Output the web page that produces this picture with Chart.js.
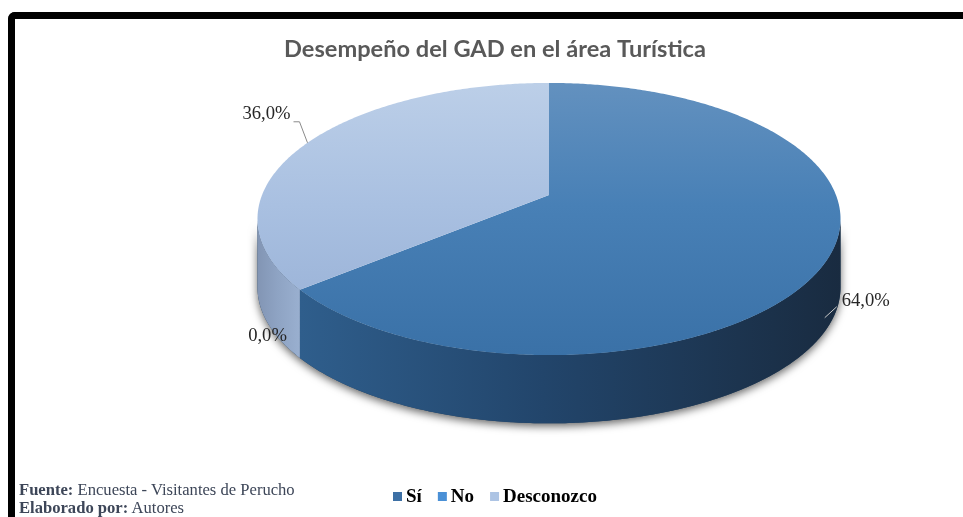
<!DOCTYPE html>
<html>
<head>
<meta charset="utf-8">
<script src="https://cdn.jsdelivr.net/npm/chart.js@4.4.1/dist/chart.umd.min.js"></script>
<style>
  html, body { margin: 0; padding: 0; background: #fff; }
  #wrap { position: relative; width: 963px; height: 517px; overflow: hidden; background: #fff; }
  #frame {
    position: absolute; left: 8px; top: 12px; width: 990px; height: 560px;
    border-top: 7px solid #000; border-left: 7px solid #000;
    border-top-left-radius: 7px; box-sizing: border-box;
  }
  #chart { position: absolute; left: 0; top: 0; }
  #source {
    position: absolute; left: 19px; top: 481px;
    font-family: "Liberation Serif", "Times New Roman", serif;
    font-size: 16.6px; line-height: 18px; color: #3d4658; white-space: nowrap;
  }
</style>
</head>
<body>
<div id="wrap">
  <div id="frame"></div>
  <canvas id="chart" width="963" height="517"></canvas>
  <div id="source"><b>Fuente:</b> Encuesta - Visitantes de Perucho<br><b>Elaborado por:</b> Autores</div>
</div>
<script>
// Survey answers and their shares (%)
const categories = ['Sí', 'No', 'Desconozco'];
const shares = [64.0, 0.0, 36.0];
const chartTitle = 'Desempeño del GAD en el área Turística';

// Colours per answer: top face gradient, side wall gradient, legend swatch
const palette = [
  { top: ['#6391bf', '#4880b6', '#3a71a7'], wall: ['#2f5e8c', '#22456b', '#192b40'], swatch: '#3d70a5' },
  { top: ['#5a9ad8', '#4a8ed3', '#3f80c4'], wall: ['#2f5f92', '#244c78', '#1b3a5c'], swatch: '#4a90d6' },
  { top: ['#bccfe8', '#a9c0e1', '#95aed4'], wall: ['#8295b4', '#8ea3c3', '#9ab0d0'], swatch: '#adc4e4' }
];

// Tilted-disc look: horizontal/vertical radius factors, perspective strength, thickness
const RX = 1.913, RY = 0.879, PERSP = 0.1765, DEPTH = 0.455;

function geometry(chart) {
  const arc = chart.getDatasetMeta(0).data[0];
  const p = arc.getProps(['x', 'y', 'outerRadius'], true);
  const A = p.outerRadius * RX, B = p.outerRadius * RY, D = p.outerRadius * DEPTH;
  const proj = (a, dy) => {
    const u = Math.cos(a), v = Math.sin(a), d = 1 - PERSP * v;
    return [p.x + A * u / d, p.y + B * v / d + (dy || 0)];
  };
  return { cx: p.x, cy: p.y, A, B, D, proj };
}

function tracePoints(ctx, g, a0, a1, dy, first) {
  const n = Math.max(2, Math.ceil(Math.abs(a1 - a0) / 0.01));
  for (let i = 0; i <= n; i++) {
    const t = a0 + (a1 - a0) * i / n;
    const [x, y] = g.proj(t, dy);
    if (i === 0 && first) ctx.moveTo(x, y); else ctx.lineTo(x, y);
  }
}

const pie3d = {
  id: 'pie3d',
  beforeDatasetsDraw(chart) {
    const ctx = chart.ctx;
    const g = geometry(chart);
    const arcs = chart.getDatasetMeta(0).data;
    const aMin = Math.asin(PERSP), aMax = Math.PI - Math.asin(PERSP);

    // soft shadow beneath the visible wall
    ctx.save();
    ctx.beginPath();
    tracePoints(ctx, g, aMin, aMax, 0, true);
    tracePoints(ctx, g, aMax, aMin, g.D, false);
    ctx.closePath();
    ctx.shadowColor = 'rgba(0,0,0,0.6)';
    ctx.shadowBlur = 8;
    ctx.shadowOffsetY = 3;
    ctx.fillStyle = '#24415f';
    ctx.fill();
    ctx.restore();

    // side walls
    arcs.forEach((el, i) => {
      const { startAngle, endAngle } = el.getProps(['startAngle', 'endAngle'], true);
      [0, -2 * Math.PI, 2 * Math.PI].forEach(off => {
        const s = Math.max(startAngle + off, aMin), e = Math.min(endAngle + off, aMax);
        if (e - s <= 0.0005) return;
        const [xs] = g.proj(s), [xe] = g.proj(e);
        const grad = ctx.createLinearGradient(Math.min(xs, xe), 0, Math.max(xs, xe) + 1, 0);
        const c = palette[i].wall;
        grad.addColorStop(0, c[0]); grad.addColorStop(0.45, c[1]); grad.addColorStop(1, c[2]);
        ctx.beginPath();
        tracePoints(ctx, g, s, e, 0, true);
        tracePoints(ctx, g, e, s, g.D, false);
        ctx.closePath();
        ctx.fillStyle = grad;
        ctx.fill();
      });
    });

    // top faces
    const yTop = g.cy - g.B / (1 + PERSP), yBot = g.cy + g.B / (1 - PERSP);
    arcs.forEach((el, i) => {
      const { startAngle, endAngle } = el.getProps(['startAngle', 'endAngle'], true);
      if (endAngle - startAngle <= 0.0005) return;
      const grad = ctx.createLinearGradient(0, yTop, 0, yBot);
      const c = palette[i].top;
      grad.addColorStop(0, c[0]); grad.addColorStop(0.45, c[1]); grad.addColorStop(1, c[2]);
      ctx.beginPath();
      ctx.moveTo(g.cx, g.cy);
      tracePoints(ctx, g, startAngle, endAngle, 0, false);
      ctx.closePath();
      ctx.fillStyle = grad;
      ctx.fill();
    });
    return false;
  },
  afterDraw(chart) {
    const ctx = chart.ctx;
    const g = geometry(chart);
    const arcs = chart.getDatasetMeta(0).data;
    const values = chart.data.datasets[0].data;
    const total = values.reduce((s, v) => s + v, 0);

    // title
    ctx.save();
    ctx.fillStyle = '#595959';
    ctx.textBaseline = 'alphabetic';
    ctx.textAlign = 'center';
    let fs = 20;
    ctx.font = 'bold ' + fs + 'px Lato, "Open Sans", sans-serif';
    fs = fs * 422 / ctx.measureText(chartTitle).width;
    ctx.font = 'bold ' + fs.toFixed(2) + 'px Lato, "Open Sans", sans-serif';
    ctx.fillText(chartTitle, 495, 57);
    ctx.restore();

    // percentage labels with leader lines
    const label = v => (v / total * 100).toFixed(1).replace('.', ',') + '%';
    const place = [
      { dx: 12, dy: 45, align: 'left', lead: [[-5, 62], [7, 51]], leadColor: '#c8c8c8' },
      { dx: -13, dy: 46, align: 'right', lead: null },
      { dx: -17, dy: -29, align: 'right', lead: [[-14, -21], [-8, -21], [0, 0]], leadColor: '#8a8a8a' }
    ];
    ctx.save();
    ctx.font = '18.6px "Liberation Serif", "Times New Roman", serif';
    ctx.textBaseline = 'middle';
    arcs.forEach((el, i) => {
      const { startAngle, endAngle } = el.getProps(['startAngle', 'endAngle'], true);
      const [ax, ay] = g.proj((startAngle + endAngle) / 2);
      const p = place[i];
      if (p.lead) {
        ctx.beginPath();
        p.lead.forEach(([lx, ly], k) => k ? ctx.lineTo(ax + lx, ay + ly) : ctx.moveTo(ax + lx, ay + ly));
        ctx.strokeStyle = p.leadColor;
        ctx.lineWidth = 1;
        ctx.stroke();
      }
      ctx.fillStyle = '#262626';
      ctx.textAlign = p.align;
      ctx.fillText(label(values[i]), ax + p.dx, ay + p.dy);
    });
    ctx.restore();

    // legend
    ctx.save();
    ctx.font = 'bold 19px "Liberation Serif", "Times New Roman", serif';
    ctx.textBaseline = 'middle';
    ctx.textAlign = 'left';
    let x = 393;
    const y = 497;
    chart.data.labels.forEach((name, i) => {
      ctx.fillStyle = palette[i].swatch;
      ctx.fillRect(x, y - 5, 9, 9);
      x += 13;
      ctx.fillStyle = '#000';
      ctx.fillText(name, x, y);
      x += ctx.measureText(name).width + 16;
    });
    ctx.restore();
  }
};

new Chart(document.getElementById('chart'), {
  type: 'pie',
  data: {
    labels: categories,
    datasets: [{
      data: shares,
      backgroundColor: palette.map(p => p.swatch),
      borderWidth: 0,
      hoverOffset: 0
    }]
  },
  options: {
    responsive: false,
    animation: false,
    events: [],
    layout: { padding: { left: 399, right: 264, top: 45, bottom: 172 } },
    plugins: {
      legend: { display: false },
      title: { display: false },
      tooltip: { enabled: false }
    }
  },
  plugins: [pie3d]
});
</script>
</body>
</html>
